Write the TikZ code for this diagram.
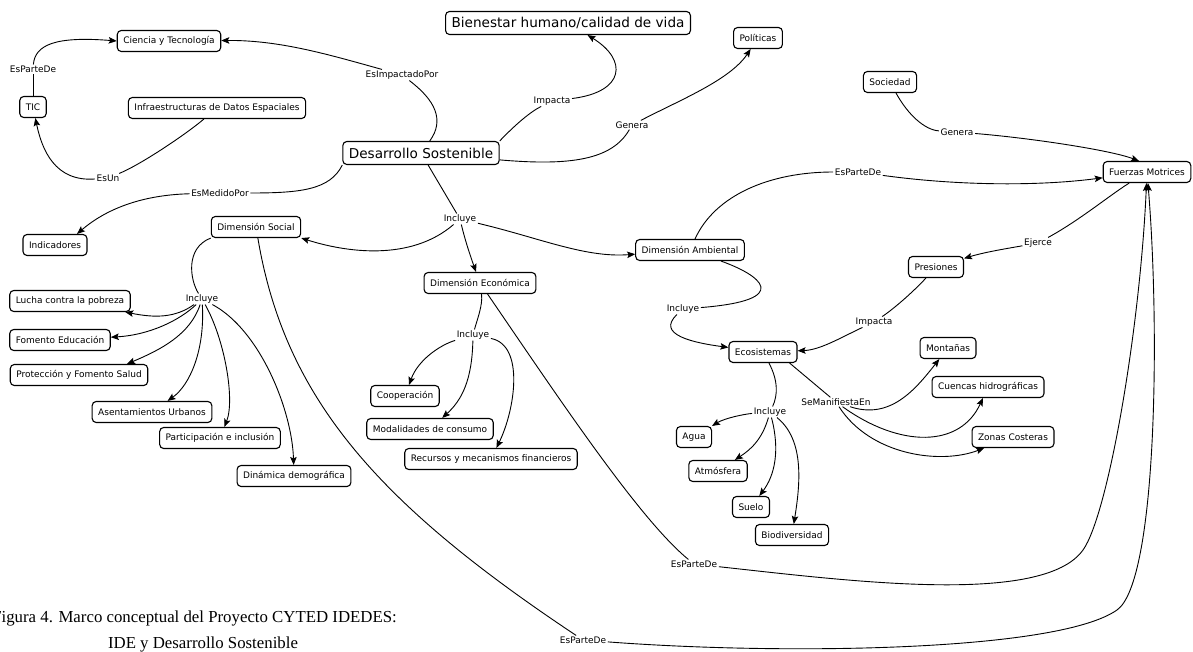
\documentclass[tikz,border=0pt]{standalone}
\usepackage{fontspec}
\setmainfont{DejaVu Sans}
\newfontfamily\capfont{Liberation Serif}
\usetikzlibrary{arrows.meta}

\begin{document}
\begin{tikzpicture}[x=1pt,y=-1pt,
  box/.style={draw, line width=1.1pt, rounded corners=4pt, inner xsep=6pt, inner ysep=0pt,
              minimum height=21pt, font=\fontsize{9}{10}\selectfont, fill=white},
  bigbox/.style={box, minimum height=23pt, font=\fontsize{13.6}{15}\selectfont, inner xsep=6pt},
  lbl/.style={fill=white, inner xsep=1.5pt, inner ysep=1pt, font=\fontsize{9}{10}\selectfont},
  ln/.style={line width=0.9pt},
  arr/.style={ln, -{Stealth[length=8pt,width=6.5pt,inset=1.5pt]}},
  captext/.style={font=\capfont\fontsize{16.8}{18}\selectfont, inner sep=0pt},
]
\useasboundingbox (0,0) rectangle (1193,652);

% concepts
\node[box]    (cyt)   at (169,41)  {Ciencia y Tecnología};
\node[box]    (tic)   at (33,107)  {TIC};
\node[box]    (ide)   at (217,108) {Infraestructuras de Datos Espaciales};
\node[bigbox] (bien)  at (568,23)  {Bienestar humano/calidad de vida};
\node[box]    (pol)   at (758,38)  {Políticas};
\node[bigbox] (ds)    at (421,153) {Desarrollo Sostenible};
\node[box]    (soc)   at (890,82)  {Sociedad};
\node[box]    (fm)    at (1147,172) {Fuerzas Motrices};
\node[box]    (ind)   at (55,245)  {Indicadores};
\node[box]    (dsoc)  at (256,227) {Dimensión Social};
\node[box]    (damb)  at (690,250) {Dimensión Ambiental};
\node[box]    (pres)  at (936,267) {Presiones};
\node[box]    (deco)  at (480,283) {Dimensión Económica};
\node[box]    (lucha) at (70,301)  {Lucha contra la pobreza};
\node[box]    (edu)   at (60,340)  {Fomento Educación};
\node[box]    (salud) at (79,375)  {Protección y Fomento Salud};
\node[box]    (asen)  at (152,412) {Asentamientos Urbanos};
\node[box]    (part)  at (220,438) {Participación e inclusión};
\node[box]    (dem)   at (294,476) {Dinámica demográfica};
\node[box]    (coop)  at (405,396) {Cooperación};
\node[box]    (mod)   at (430,429) {Modalidades de consumo};
\node[box]    (rec)   at (491,459) {Recursos y mecanismos financieros};
\node[box]    (ecos)  at (763,352) {Ecosistemas};
\node[box]    (mont)  at (948,348) {Montañas};
\node[box]    (cuen)  at (988,387) {Cuencas hidrográficas};
\node[box]    (zon)   at (1013,437) {Zonas Costeras};
\node[box]    (agua)  at (694,437) {Agua};
\node[box]    (atm)   at (718,471) {Atmósfera};
\node[box]    (suelo) at (751,507) {Suelo};
\node[box]    (bio)   at (792,535) {Biodiversidad};

% relation labels
\node[lbl] (l1)  at (33,69)    {EsParteDe};
\node[lbl] (l2)  at (402,75)   {EsImpactadoPor};
\node[lbl] (l3)  at (552,101)  {Impacta};
\node[lbl] (l4)  at (632,125)  {Genera};
\node[lbl] (l5)  at (108,178)  {EsUn};
\node[lbl] (l6)  at (220,193)  {EsMedidoPor};
\node[lbl] (l7)  at (957,132)  {Genera};
\node[lbl] (l8)  at (858,172)  {EsParteDe};
\node[lbl] (l9)  at (1038,243) {Ejerce};
\node[lbl] (l10) at (460,219)  {Incluye};
\node[lbl] (l11) at (202,299)  {Incluye};
\node[lbl] (l12) at (473,335)  {Incluye};
\node[lbl] (l13) at (683,309)  {Incluye};
\node[lbl] (l14) at (874,322)  {Impacta};
\node[lbl] (l15) at (770,412)  {Incluye};
\node[lbl] (l16) at (836,402)  {SeManifiestaEn};
\node[lbl] (l17) at (694,564)  {EsParteDe};
\node[lbl] (l18) at (583,640)  {EsParteDe};

% TIC / IDE / Ciencia y Tecnología
\draw[ln]  (tic) -- (l1);
\draw[arr] (l1) .. controls (35,45) and (55,36) .. (cyt.west);
\draw[ln]  (ide) .. controls (185,135) and (140,165) .. (l5);
\draw[arr] (l5) .. controls (55,182) and (42,150) .. (tic);

% Desarrollo Sostenible, upper relations
\draw[ln]  (ds) .. controls (445,120) and (435,100) .. (l2);
\draw[arr] (l2) .. controls (330,55) and (280,40) .. (cyt);
\draw[ln]  (ds.north east) .. controls (515,125) and (530,112) .. (l3);
\draw[arr] (l3) .. controls (625,92) and (628,60) .. (bien);
\draw[ln]  (ds.-5) .. controls (570,166) and (612,160) .. (l4);
\draw[arr] (l4) .. controls (680,100) and (730,80) .. (pol);
\draw[ln]  (ds.south west) .. controls (330,190) and (300,193) .. (l6);
\draw[arr] (l6) .. controls (140,195) and (105,210) .. ([xshift=22pt]ind.north);

% the three dimensions
\draw[ln]  (ds) -- (l10);
\draw[arr] (l10) .. controls (410,262) and (345,252) .. (dsoc.south east);
\draw[arr] (l10) .. controls (465,240) and (470,255) .. (deco);
\draw[arr] (l10) .. controls (540,238) and (585,258) .. (damb);

% social dimension
\draw[ln]  (dsoc.south west) .. controls (185,248) and (190,280) .. (l11);
\draw[arr] (l11) .. controls (175,318) and (155,318) .. (lucha);
\draw[arr] (l11) .. controls (180,320) and (150,335) .. (edu);
\draw[arr] (l11) .. controls (190,335) and (160,350) .. ([xshift=48pt]salud.north);
\draw[arr] (l11) .. controls (205,350) and (190,385) .. (asen);
\draw[arr] (l11) .. controls (225,340) and (235,400) .. (part);
\draw[arr] (l11) .. controls (260,330) and (292,410) .. (dem);

% economic dimension
\draw[ln]  (deco) .. controls (483,305) and (477,320) .. (l12);
\draw[arr] (l12) .. controls (440,345) and (418,360) .. (coop);
\draw[arr] (l12) .. controls (472,380) and (462,400) .. (mod);
\draw[arr] (l12) .. controls (525,345) and (515,410) .. (rec);

% environmental dimension
\draw[ln]  (damb) .. controls (760,275) and (795,300) .. (l13);
\draw[arr] (l13) .. controls (655,335) and (695,343) .. (ecos);
\draw[ln]  (damb) .. controls (715,195) and (770,172) .. (l8);
\draw[arr] (l8) .. controls (960,186) and (1040,186) .. (fm);

% driving forces and pressures
\draw[ln]  (soc) .. controls (908,115) and (925,130) .. (l7);
\draw[arr] (l7) .. controls (1030,138) and (1110,150) .. ([xshift=-8pt]fm.north);
\draw[ln]  (fm) .. controls (1110,195) and (1080,220) .. (l9);
\draw[arr] (l9) .. controls (1010,248) and (985,252) .. (pres);
\draw[ln]  (pres) .. controls (915,290) and (895,308) .. (l14);
\draw[arr] (l14) .. controls (840,338) and (820,350) .. (ecos);

% ecosystems
\draw[ln]  (ecos) .. controls (778,380) and (778,395) .. (l15);
\draw[arr] (l15) .. controls (745,414) and (725,418) .. (agua);
\draw[arr] (l15) .. controls (762,440) and (750,450) .. (atm);
\draw[arr] (l15) .. controls (780,450) and (775,475) .. (suelo);
\draw[arr] (l15) .. controls (805,440) and (800,485) .. (bio);
\draw[ln]  ([xshift=-8pt]ecos.south east) -- (l16);
\draw[arr] (l16) .. controls (890,420) and (915,390) .. (mont);
\draw[arr] (l16) .. controls (900,448) and (960,448) .. (cuen);
\draw[arr] (l16) .. controls (870,455) and (940,465) .. (zon);

% long links back to Fuerzas Motrices
\draw[ln]  (deco) .. controls (560,400) and (640,520) .. (l17);
\draw[arr] (l17) .. controls (850,581) and (1043,606) .. (1083,550)
                 .. controls (1108,515) and (1140,330) .. (fm);
\draw[ln]  (dsoc) .. controls (285,400) and (380,505) .. (l18);
\draw[arr] (l18) .. controls (780,655) and (1057,652) .. (1117,610)
                 .. controls (1157,582) and (1160,330) .. (fm);

% caption
\node[captext, anchor=base east] (cap1) at (397,622)
  {Figura 4. Marco conceptual del Proyecto CYTED IDEDES:};
\node[captext, anchor=base] (cap2) at (203,648)
  {IDE y Desarrollo Sostenible};
\end{tikzpicture}
\end{document}
